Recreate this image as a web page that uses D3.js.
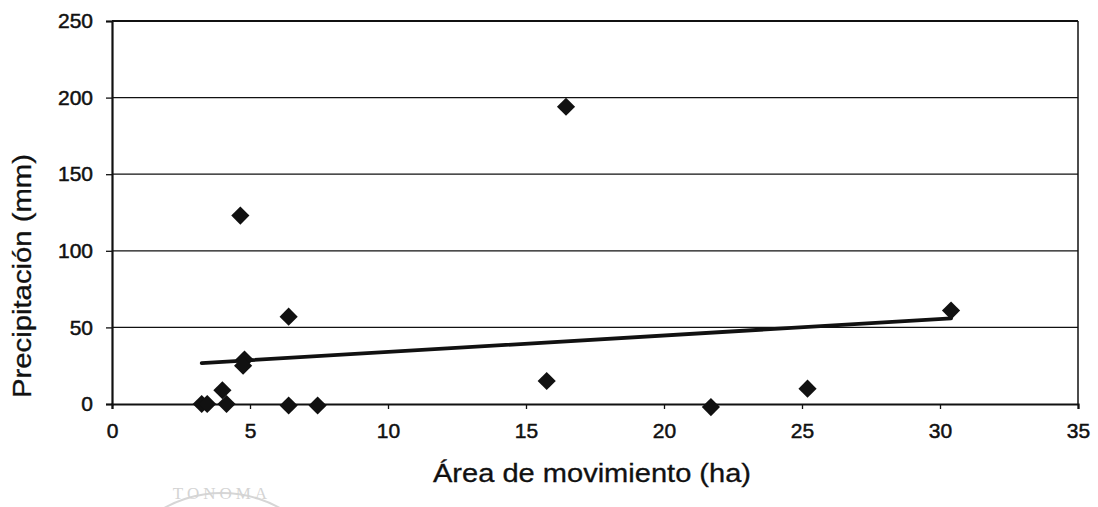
<!DOCTYPE html>
<html>
<head>
<meta charset="utf-8">
<script src="https://cdn.jsdelivr.net/npm/d3@7/dist/d3.min.js"></script>
<style>
  html, body { margin: 0; padding: 0; background: #fff; }
  svg { display: block; }
  text { font-family: "Liberation Sans", Arial, sans-serif; fill: #111; }
</style>
</head>
<body>
<svg id="chart" width="1098" height="507"></svg>
<script>
// ---- data ----
const areaHa = [3.25, 3.45, 4.0, 4.15, 4.65, 4.8, 4.75, 6.4, 6.4, 7.45, 15.75, 16.45, 21.7, 25.2, 30.4];
const precipMm = [0, 0, 9, 0, 123, 29, 25, 57, -1, -1, 15, 194, -2, 10, 61];
const xTicks = [0, 5, 10, 15, 20, 25, 30, 35];
const yTicks = [0, 50, 100, 150, 200, 250];
const xTitle = "Área de movimiento (ha)";
const yTitle = "Precipitación (mm)";

const svg = d3.select("#chart");
const x = d3.scaleLinear().domain([0, 35]).range([112, 1078]);
const y = d3.scaleLinear().domain([0, 250]).range([404, 21]);

// faint watermark
svg.append("path")
  .attr("d", d3.arc()({innerRadius: 118, outerRadius: 120, startAngle: -1.25, endAngle: 1.25}))
  .attr("transform", "translate(222,612)")
  .attr("fill", "#d6d6d6");
svg.append("text").attr("x", 222).attr("y", 499).attr("text-anchor", "middle")
  .style("font-family", "Liberation Serif, serif").style("font-size", "17px")
  .style("fill", "#d4d4d4").attr("letter-spacing", 4).text("TONOMA");

// gridlines
svg.append("g").selectAll("line").data(yTicks.filter(d => d > 0 && d < 250)).join("line")
  .attr("x1", x(0)).attr("x2", x(35))
  .attr("y1", d => y(d)).attr("y2", d => y(d))
  .attr("stroke", "#111").attr("stroke-width", 1.3);

// borders
svg.append("line").attr("x1", x(0)).attr("x2", x(35)).attr("y1", y(250)).attr("y2", y(250))
  .attr("stroke", "#111").attr("stroke-width", 2);
svg.append("line").attr("x1", x(35)).attr("x2", x(35)).attr("y1", y(250)).attr("y2", y(0))
  .attr("stroke", "#111").attr("stroke-width", 1.5);

// y axis
const yAxis = d3.axisLeft(y).tickValues(yTicks).tickSize(6).tickPadding(13).tickFormat(d3.format("d"));
const gy = svg.append("g").attr("transform", `translate(${x(0)},0)`).call(yAxis);
gy.select(".domain").attr("stroke", "#111").attr("stroke-width", 2.2);
gy.selectAll(".tick line").attr("stroke", "#111").attr("stroke-width", 1.3);
gy.selectAll(".tick text").style("font-size", "21px").style("font-family", "Liberation Sans, Arial, sans-serif")
  .attr("fill", "#111").attr("stroke", "#111").attr("stroke-width", 0.5);

// x axis
const xAxis = d3.axisBottom(x).tickValues(xTicks).tickSize(5).tickPadding(14).tickFormat(d3.format("d"));
const gx = svg.append("g").attr("transform", `translate(0,${y(0)})`).call(xAxis);
gx.select(".domain").attr("stroke", "#111").attr("stroke-width", 2.2);
gx.selectAll(".tick line").attr("stroke", "#111").attr("stroke-width", 1.3);
gx.selectAll(".tick text").style("font-size", "21px").style("font-family", "Liberation Sans, Arial, sans-serif")
  .attr("fill", "#111").attr("stroke", "#111").attr("stroke-width", 0.5);

// linear trendline (least squares over the data)
const n = areaHa.length;
const mx = d3.mean(areaHa), my = d3.mean(precipMm);
let sxy = 0, sxx = 0;
for (let i = 0; i < n; i++) { sxy += (areaHa[i] - mx) * (precipMm[i] - my); sxx += (areaHa[i] - mx) ** 2; }
const slope = sxy / sxx, icpt = my - slope * mx;
const x0 = d3.min(areaHa), x1 = d3.max(areaHa);
svg.append("line")
  .attr("x1", x(x0)).attr("y1", y(icpt + slope * x0))
  .attr("x2", x(x1)).attr("y2", y(icpt + slope * x1))
  .attr("stroke", "#111").attr("stroke-width", 3.8).attr("stroke-linecap", "round");

// points
const sym = d3.symbol().type(d3.symbolSquare).size(165);
svg.append("g").selectAll("path").data(areaHa.map((a, i) => [a, precipMm[i]])).join("path")
  .attr("d", sym)
  .attr("transform", d => `translate(${x(d[0])},${y(d[1])}) rotate(45)`)
  .attr("fill", "#111");

// titles
svg.append("text").attr("x", 592).attr("y", 482).attr("text-anchor", "middle")
  .attr("textLength", 318).attr("lengthAdjust", "spacingAndGlyphs")
  .style("font-size", "25px").attr("stroke", "#111").attr("stroke-width", 0.3).text(xTitle);
svg.append("text").attr("transform", "translate(31,276) rotate(-90)").attr("text-anchor", "middle")
  .attr("textLength", 244).attr("lengthAdjust", "spacingAndGlyphs")
  .style("font-size", "25px").attr("stroke", "#111").attr("stroke-width", 0.3).text(yTitle);
</script>
</body>
</html>
